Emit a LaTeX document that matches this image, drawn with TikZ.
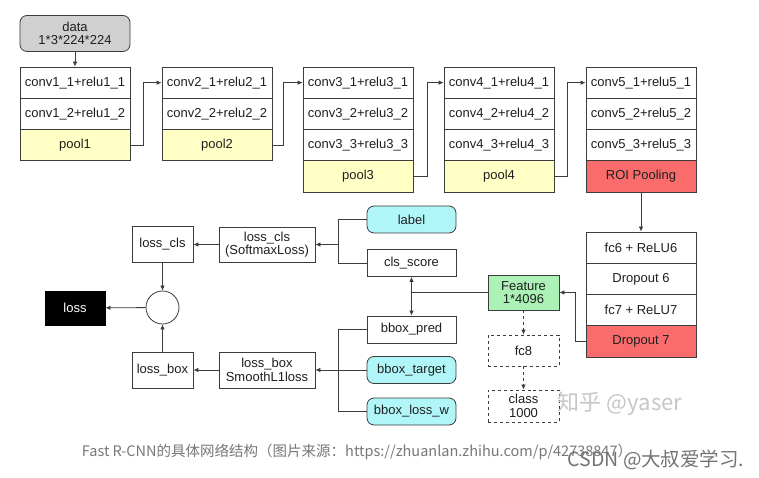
\documentclass[tikz,border=0pt]{standalone}
\usepackage{fontspec}
\setmainfont{Liberation Sans}
\newfontfamily\cjk{Noto Sans CJK SC}
\usetikzlibrary{arrows.meta,calc}
\definecolor{linec}{RGB}{60,60,60}
\definecolor{poolc}{RGB}{255,255,198}
\definecolor{roic}{RGB}{250,108,108}
\definecolor{datac}{RGB}{208,208,208}
\definecolor{cyanc}{RGB}{176,246,248}
\definecolor{featc}{RGB}{172,242,182}
\definecolor{capc}{RGB}{120,120,120}
\begin{document}
\begin{tikzpicture}[x=1bp,y=-1bp,
  every node/.style={font=\fontsize{13bp}{14.5bp}\selectfont, text=black!88},
  box/.style={draw=linec, line width=0.8bp, inner sep=0pt, align=center},
  cell/.style={box, minimum width=110bp, minimum height=31.3bp},
  poolcell/.style={cell, fill=poolc},
  redcell/.style={cell, fill=roic},
  small/.style={box, minimum width=89bp, minimum height=27bp},
  cyanbox/.style={small, fill=cyanc, rounded corners=7bp},
  dbox/.style={box, dashed, minimum width=71bp},
  arr/.style={draw=linec, line width=0.8bp, -{Latex[length=5bp,width=4.5bp]}},
  dbl/.style={draw=linec, line width=0.8bp, {Latex[length=5bp,width=4.5bp]}-{Latex[length=5bp,width=4.5bp]}},
  ln/.style={draw=linec, line width=0.8bp}]
\useasboundingbox (0,0) rectangle (759,478);
\fill[white] (0,0) rectangle (759,478);

% data
\node[box, fill=datac, rounded corners=7bp, minimum width=110bp, minimum height=36bp] (data) at (75,33.5) {data\\[-1bp]1*3*224*224};

% column 1
\node[cell] (c11) at (75,82.65) {conv1\_1+relu1\_1};
\node[cell] (c12) at (75,113.95) {conv1\_2+relu1\_2};
\node[poolcell] (p1) at (75,145.25) {pool1};
% column 2
\node[cell] (c21) at (217,82.65) {conv2\_1+relu2\_1};
\node[cell] (c22) at (217,113.95) {conv2\_2+relu2\_2};
\node[poolcell] (p2) at (217,145.25) {pool2};
% column 3
\node[cell] (c31) at (358,82.65) {conv3\_1+relu3\_1};
\node[cell] (c32) at (358,113.95) {conv3\_2+relu3\_2};
\node[cell] (c33) at (358,145.25) {conv3\_3+relu3\_3};
\node[poolcell] (p3) at (358,176.55) {pool3};
% column 4
\node[cell] (c41) at (499,82.65) {conv4\_1+relu4\_1};
\node[cell] (c42) at (499,113.95) {conv4\_2+relu4\_2};
\node[cell] (c43) at (499,145.25) {conv4\_3+relu4\_3};
\node[poolcell] (p4) at (499,176.55) {pool4};
% column 5
\node[cell] (c51) at (641,82.65) {conv5\_1+relu5\_1};
\node[cell] (c52) at (641,113.95) {conv5\_2+relu5\_2};
\node[cell] (c53) at (641,145.25) {conv5\_3+relu5\_3};
\node[redcell] (roi) at (641,176.55) {ROI Pooling};
% fc column
\node[cell] (fc6) at (641,247.6) {fc6 + ReLU6};
\node[cell] (d6) at (641,278.9) {Dropout 6};
\node[cell] (fc7) at (641,310.2) {fc7 + ReLU7};
\node[redcell] (d7) at (641,341.5) {Dropout 7};

% feature and dashed
\node[box, fill=featc, minimum width=71bp, minimum height=35bp] (feat) at (523.5,292.5) {Feature\\[-1bp]1*4096};
\node[dbox, minimum height=31bp] (fc8) at (523.5,350.5) {fc8};
\node[dbox, minimum height=32bp] (cls) at (523.5,406) {class\\[-1bp]1000};

% right small boxes
\node[cyanbox] (label) at (411.5,219.5) {label};
\node[small] (score) at (411.5,263) {cls\_score};
\node[small] (bpred) at (411.5,329.5) {bbox\_pred};
\node[cyanbox] (btarget) at (411.5,370) {bbox\_target};
\node[cyanbox] (blossw) at (411.5,411.5) {bbox\_loss\_w};

% loss functions
\node[box, minimum width=96bp, minimum height=35bp] (lossS) at (267,244.5) {loss\_cls\\[-1bp](SoftmaxLoss)};
\node[box, minimum width=96bp, minimum height=36bp] (boxS) at (267,370) {loss\_box\\[-1bp]SmoothL1loss};
\node[box, minimum width=61bp, minimum height=36bp] (losscls) at (162.5,244.5) {loss\_cls};
\node[box, minimum width=61bp, minimum height=36bp] (lossbox) at (162.5,370) {loss\_box};
\node[draw=linec, line width=0.8bp, circle, minimum size=33bp, inner sep=0pt] (circ) at (162.5,307.5) {};
\node[box, draw=black, fill=black, text=white, minimum width=60bp, minimum height=34bp] (loss) at (75,308) {loss};

% connectors top
\draw[arr] (data) -- (c11);
\draw[arr] (p1.east) -- ++(13,0) |- (c21.west);
\draw[arr] (p2.east) -- ++(11,0) |- (c31.west);
\draw[arr] (p3.east) -- ++(14,0) |- (c41.west);
\draw[arr] (p4.east) -- ++(13,0) |- (c51.west);
\draw[arr] (roi) -- (fc6);
\draw[arr] (d7.west) -- ++(-10,0) |- (feat.east);
\draw[arr, dashed] (feat) -- (fc8);
\draw[arr, dashed] (fc8) -- (cls);

% score / bbox
\draw[dbl] (score) -- (bpred);
\coordinate (jn) at (score.south |- feat.west);
\draw[ln] (feat.west) -- (jn);

% buses
\draw[ln] (label.west) -- ++(-28,0) |- (score.west);
\coordinate (j1) at (339,244.5);
\draw[arr] (j1) -- (lossS.east);
\draw[ln] (bpred.west) -- ++(-28,0) |- (blossw.west);
\draw[arr] (btarget.west) -- (boxS.east);

% loss side
\draw[arr] (lossS) -- (losscls);
\draw[arr] (boxS) -- (lossbox);
\draw[arr] (losscls) -- (circ);
\draw[arr] (lossbox) -- (circ);
\draw[arr] (circ) -- (loss);

% watermark and caption
\node[text=black!22, font=\cjk\fontsize{22bp}{24bp}\selectfont] (wm1) at (620,404) {知乎 @yaser};
\node[text=capc, font=\cjk\fontsize{14.5bp}{16bp}\selectfont] (cap) at (357,452) {Fast R-CNN的具体网络结构（图片来源：https://zhuanlan.zhihu.com/p/42738847）};
\node[text=black!55, font=\cjk\fontsize{19.5bp}{21bp}\selectfont] (wm2) at (656,460) {CSDN @大叔爱学习.};
\end{tikzpicture}
\end{document}
